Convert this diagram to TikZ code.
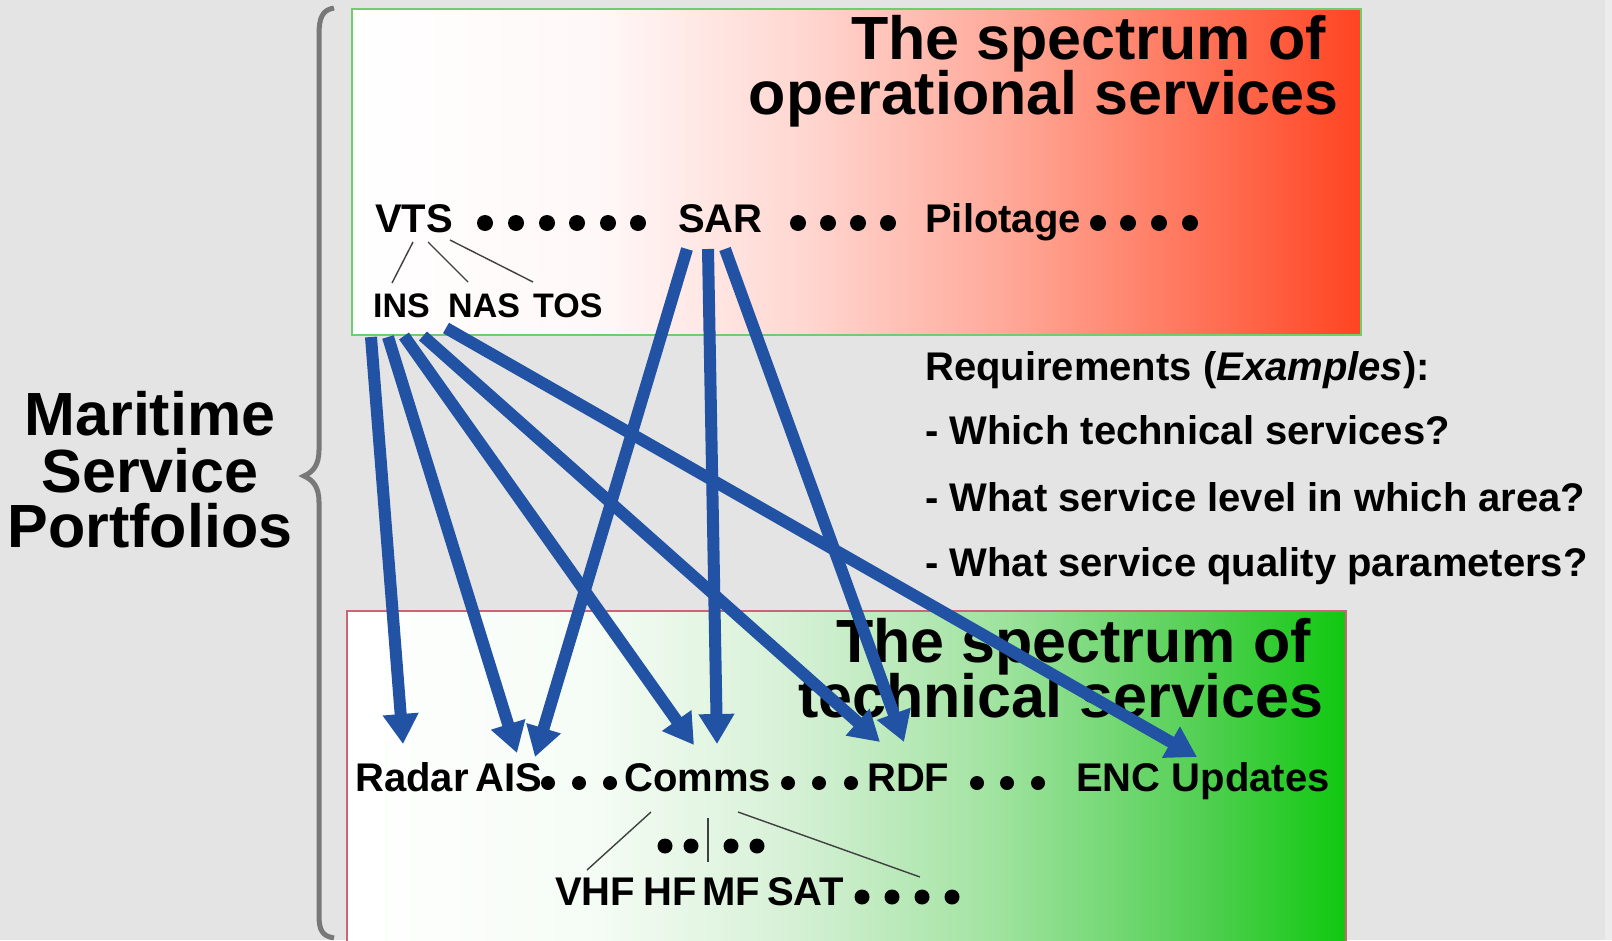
\documentclass[tikz,border=0pt]{standalone}
\usepackage{fontspec}
\setmainfont{Liberation Sans}
\usetikzlibrary{arrows.meta}
\definecolor{bgc}{RGB}{228,228,228}
\definecolor{arrowblue}{RGB}{33,82,164}
\definecolor{topborder}{RGB}{110,205,110}
\definecolor{botborder}{RGB}{205,100,115}
\definecolor{bracec}{RGB}{120,120,120}
\pgfdeclarehorizontalshading{redspec}{100bp}{color(0bp)=(white); color(25bp)=(white); color(37.5bp)=(white!97!red); color(47.5bp)=(rgb,255:red,255;green,214;blue,208); color(57.5bp)=(rgb,255:red,255;green,168;blue,152); color(67.5bp)=(rgb,255:red,255;green,112;blue,85); color(75bp)=(rgb,255:red,255;green,68;blue,34); color(100bp)=(rgb,255:red,255;green,68;blue,34)}
\pgfdeclarehorizontalshading{greenspec}{100bp}{color(0bp)=(white); color(25bp)=(white); color(37.5bp)=(rgb,255:red,245;green,252;blue,245); color(47.5bp)=(rgb,255:red,213;green,240;blue,213); color(57.5bp)=(rgb,255:red,160;green,227;blue,160); color(67.5bp)=(rgb,255:red,85;green,208;blue,85); color(75bp)=(rgb,255:red,16;green,200;blue,16); color(100bp)=(rgb,255:red,16;green,200;blue,16)}
\tikzset{
  bigtxt/.style={font=\fontsize{61}{61}\selectfont\bfseries, inner sep=0pt},
  medtxt/.style={font=\fontsize{40}{40}\selectfont\bfseries, inner sep=0pt},
  smltxt/.style={font=\fontsize{34}{34}\selectfont\bfseries, inner sep=0pt},
  conn/.style={line width=12pt, arrowblue, -{Triangle[width=34pt,length=30pt]}},
  subline/.style={line width=1.4pt, black!75},
}
\begin{document}
\begin{tikzpicture}[x=1pt,y=-1pt]
\useasboundingbox (0,0) rectangle (1612,940);
\fill[bgc] (0,0) rectangle (1612,940);
\fill[bgc!70!white] (1605,0) rectangle (1612,940);
% boxes
\shade[shading=redspec, draw=topborder, line width=2pt] (352,9) rectangle (1361,335);
\shade[shading=greenspec, draw=botborder, line width=2pt] (347,611) rectangle (1346,942);
% brace
\draw[bracec, line width=5pt] (334,8) .. controls (322,10) and (319,18) .. (319,35) -- (319,450)
  .. controls (319,465) and (313,472) .. (304,476) .. controls (313,480) and (319,487) .. (319,502)
  -- (319,915) .. controls (319,930) and (322,936) .. (334,938);
% left label
\node[bigtxt, anchor=base] (mar1) at (150,435) {Maritime};
\node[bigtxt, anchor=base] (mar2) at (150,492) {Service};
\node[bigtxt, anchor=base] (mar3) at (150,547) {Portfolios};
% titles
\node[bigtxt, anchor=base east] (opt1) at (1326,59) {The spectrum of};
\node[bigtxt, anchor=base east] (opt2) at (1339,114) {operational services};
\node[bigtxt, anchor=base east] (tet1) at (1311,662) {The spectrum of};
\node[bigtxt, anchor=base east] (tet2) at (1324,717) {technical services};
% operational row
\node[medtxt, anchor=base west] (vts) at (375,232) {VTS};
\node[medtxt, anchor=base west] (sar) at (678,232) {SAR};
\node[medtxt, anchor=base west] (pil) at (925,232) {Pilotage};
\foreach \x in {485,516,547,577,608,638,798,828,858,888,1098,1128,1159,1190}
  \fill (\x,223) circle[radius=8pt];
\node[smltxt, anchor=base west] (ins) at (373,317) {INS};
\node[smltxt, anchor=base west] (nas) at (448,317) {NAS};
\node[smltxt, anchor=base west] (tos) at (533,317) {TOS};
\coordinate (v1) at (413,242); \coordinate (i1) at (392,283);
\coordinate (v2) at (428,242); \coordinate (n1) at (468,282);
\coordinate (v3) at (450,240); \coordinate (t1) at (533,282);
\draw[subline] (v1) -- (i1);
\draw[subline] (v2) -- (n1);
\draw[subline] (v3) -- (t1);
% requirements
\node[medtxt, anchor=base west] (req) at (925,380) {Requirements (\textit{Examples}):};
\node[medtxt, anchor=base west] (rq1) at (925,444) {- Which technical services?};
\node[medtxt, anchor=base west] (rq2) at (925,511) {- What service level in which area?};
\node[medtxt, anchor=base west] (rq3) at (925,576) {- What service quality parameters?};
% technical row
\node[medtxt, anchor=base west] (radar) at (355,791) {Radar};
\node[medtxt, anchor=base west] (ais) at (475,791) {AIS};
\node[medtxt, anchor=base west] (comms) at (624,791) {Comms};
\node[medtxt, anchor=base west] (rdf) at (867,791) {RDF};
\node[medtxt, anchor=base west] (enc) at (1076,791) {ENC Updates};
\foreach \x in {548,579,610,788,819,851,977,1007,1038}
  \fill (\x,783) circle[radius=7pt];
% comms sub row
\node[medtxt, anchor=base west] (vhf) at (555,905) {VHF};
\node[medtxt, anchor=base west] (hf) at (643,905) {HF};
\node[medtxt, anchor=base west] (mf) at (702,905) {MF};
\node[medtxt, anchor=base west] (sat) at (767,905) {SAT};
\foreach \x in {665,691,731,757} \fill (\x,846) circle[radius=7.5pt];
\foreach \x in {862,892,922,952} \fill (\x,897) circle[radius=7.5pt];
\coordinate (c1) at (651,812); \coordinate (vh1) at (587,870);
\coordinate (c2) at (708,818); \coordinate (mf1) at (708,862);
\coordinate (c3) at (738,812); \coordinate (sa1) at (920,877);
\draw[subline] (c1) -- (vh1);
\draw[subline] (c2) -- (mf1);
\draw[subline] (c3) -- (sa1);
% arrows
\coordinate (insA) at (371,337); \coordinate (insB) at (388,337);
\coordinate (insC) at (404,336); \coordinate (insD) at (423,336);
\coordinate (nasE) at (446,328);
\coordinate (sarA) at (687,249); \coordinate (sarB) at (708,249); \coordinate (sarC) at (725,249);
\coordinate (radarT) at (403,744);
\coordinate (aisT1) at (517,753); \coordinate (aisT2) at (535,757);
\coordinate (commsT1) at (694,745); \coordinate (commsT2) at (717,744);
\coordinate (rdfT1) at (880,742); \coordinate (rdfT2) at (904,742);
\coordinate (encT) at (1197,757);
\draw[conn] (insA) -- (radarT);
\draw[conn] (insB) -- (aisT1);
\draw[conn] (insC) -- (commsT1);
\draw[conn] (insD) -- (rdfT1);
\draw[conn] (nasE) -- (encT);
\draw[conn] (sarA) -- (aisT2);
\draw[conn] (sarB) -- (commsT2);
\draw[conn] (sarC) -- (rdfT2);
\end{tikzpicture}
\end{document}
